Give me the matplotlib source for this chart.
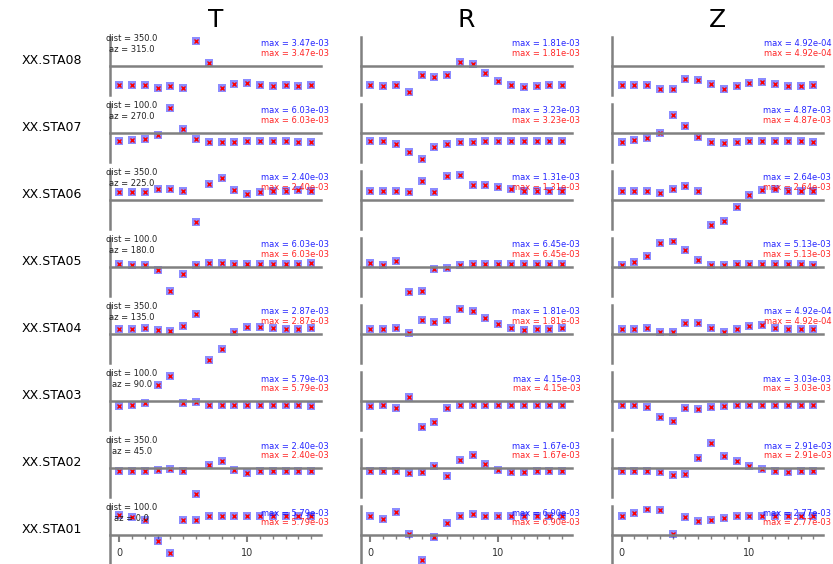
import matplotlib
matplotlib.use('Agg')
import matplotlib.pyplot as plt
from matplotlib.ticker import MultipleLocator

components = ['T', 'R', 'Z']
stations = ['XX.STA08', 'XX.STA07', 'XX.STA06', 'XX.STA05',
            'XX.STA04', 'XX.STA03', 'XX.STA02', 'XX.STA01']
dist = [350.0, 100.0, 350.0, 100.0, 350.0, 100.0, 350.0, 100.0]
az = [315.0, 270.0, 225.0, 180.0, 135.0, 90.0, 45.0, 0.0]

max_t = ['3.47e-03', '6.03e-03', '2.40e-03', '6.03e-03', '2.87e-03', '5.79e-03', '2.40e-03', '5.79e-03']
max_r = ['1.81e-03', '3.23e-03', '1.31e-03', '6.45e-03', '1.81e-03', '4.15e-03', '1.67e-03', '6.90e-03']
max_z = ['4.92e-04', '4.87e-03', '2.64e-03', '5.13e-03', '4.92e-04', '3.03e-03', '2.91e-03', '2.77e-03']

samples = list(range(16))

# relative amplitudes (same scale in every panel)
trace_t = [
    [-57, -57, -57, -65, -60, -66, 74, 8, -66, -53, -50, -57, -59, -57, -59, -56],
    [-24, -20, -17, -5, 72, 13, -19, -27, -27, -26, -24, -24, -25, -25, -26, -26],
    [24, 24, 23, 31, 32, 26, -66, 47, 65, 29, 19, 23, 26, 26, 28, 26],
    [9, 7, 5, -8, -70, -21, 6, 12, 12, 9, 9, 9, 9, 9, 9, 11],
    [16, 16, 18, 13, 8, 23, 58, -75, -44, 7, 22, 20, 17, 16, 16, 17],
    [-14, -11, -6, 46, 74, -6, -4, -13, -13, -13, -13, -13, -13, -13, -13, -14],
    [-10, -10, -10, -6, -4, -10, -76, 8, 21, -6, -14, -10, -10, -10, -10, -10],
    [59, 53, 45, -18, -53, 45, 43, 55, 55, 55, 55, 55, 55, 55, 55, 55],
]
trace_r = [
    [-57, -59, -55, -75, -27, -33, -27, 11, 5, -22, -44, -56, -61, -59, -57, -56],
    [-25, -25, -32, -57, -77, -40, -31, -27, -26, -24, -25, -25, -25, -25, -25, -24],
    [26, 26, 26, 23, 56, 24, 70, 74, 43, 43, 38, 32, 26, 25, 26, 26],
    [13, 5, 18, -74, -69, -7, -4, 7, 9, 9, 9, 9, 9, 9, 9, 9],
    [16, 16, 19, 2, 42, 36, 41, 74, 68, 46, 28, 17, 13, 16, 16, 17],
    [-14, -13, -20, 11, -76, -61, -21, -11, -11, -12, -13, -13, -13, -13, -13, -13],
    [-10, -10, -10, -15, -12, 7, -24, 23, 38, 13, -7, -12, -12, -10, -10, -10],
    [57, 47, 67, 4, -73, -7, 36, 55, 61, 55, 55, 55, 55, 55, 55, 55],
]
trace_z = [
    [-57, -57, -55, -69, -68, -39, -40, -53, -68, -58, -49, -47, -54, -59, -59, -57],
    [-27, -20, -16, 0, 54, 20, -12, -26, -29, -26, -24, -24, -25, -25, -25, -27],
    [26, 26, 26, 20, 32, 41, 26, -74, -63, -22, 15, 30, 33, 26, 25, 26],
    [7, 16, 33, 69, 75, 51, 20, 7, 6, 8, 10, 10, 10, 10, 10, 7],
    [16, 16, 18, 7, 7, 32, 33, 19, 7, 14, 24, 26, 19, 16, 16, 16],
    [-11, -11, -18, -48, -58, -21, -24, -18, -14, -11, -11, -11, -13, -13, -13, -13],
    [-10, -10, -9, -13, -20, -18, 28, 73, 36, 21, 6, -2, -10, -12, -10, -10],
    [55, 65, 75, 73, 4, 53, 42, 45, 50, 55, 57, 55, 55, 55, 55, 55],
]

traces = [trace_t, trace_r, trace_z]
maxes = [max_t, max_r, max_z]

fig, axes = plt.subplots(8, 3, figsize=(8.33, 5.64), dpi=100, sharex=True,
                         gridspec_kw=dict(left=0.1317, right=0.9879, top=0.9344,
                                          bottom=0.0, hspace=0.157, wspace=0.19))

for col in range(3):
    axes[0, col].set_title(components[col], fontsize=18, pad=7)
    for row in range(8):
        ax = axes[row, col]
        ax.patch.set_alpha(0)
        ax.plot(samples, traces[col][row], 's', color='blue', ms=5.5, alpha=0.45, mew=0)
        ax.plot(samples, traces[col][row], 'x', color='red', ms=3.5, mew=1)
        ax.set_ylim(-85, 85)
        ax.set_xlim(-0.75, 15.75)

        for s in ['top', 'right']:
            ax.spines[s].set_visible(False)
        ax.spines['bottom'].set_position('zero')
        for s in ['left', 'bottom']:
            ax.spines[s].set_color('gray')
            ax.spines[s].set_linewidth(1.8)
        ax.set_yticks([])

        ax.xaxis.set_major_locator(MultipleLocator(10))
        ax.xaxis.set_minor_locator(MultipleLocator(1))
        if row == 7:
            ax.tick_params(axis='x', which='major', length=5, width=1.5, color='gray',
                           labelsize=7, labelcolor='#333333', pad=4)
            ax.tick_params(axis='x', which='minor', length=3, width=1, color='gray')
        else:
            ax.tick_params(axis='x', which='both', length=0, labelbottom=False)

        ax.text(1.04, 0.88, 'max = ' + maxes[col][row], color='blue', fontsize=6,
                ha='right', va='center', transform=ax.transAxes, alpha=0.85)
        ax.text(1.04, 0.72, 'max = ' + maxes[col][row], color='red', fontsize=6,
                ha='right', va='center', transform=ax.transAxes, alpha=0.85)

        if col == 0:
            ax.text(0.105, 0.88, 'dist = %.1f\naz = %.1f' % (dist[row], az[row]),
                    fontsize=6, ha='center', va='center', multialignment='center',
                    color='#222222', transform=ax.transAxes)
            ax.text(-0.275, 0.6, stations[row], fontsize=9, ha='center', va='center',
                    transform=ax.transAxes)

fig.savefig('out.png', dpi=100)
